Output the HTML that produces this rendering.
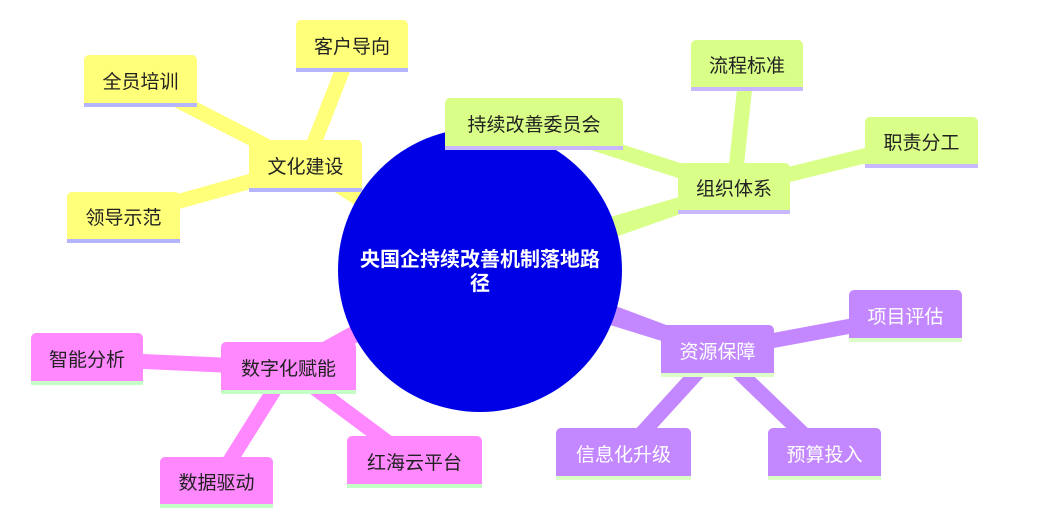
<!DOCTYPE html>
<html><head><meta charset="utf-8"><style>
body{margin:0;width:1038px;height:510px;background:#fff;position:relative;overflow:hidden;font-family:"Liberation Sans","Noto Sans CJK SC",sans-serif}
.n{position:absolute;box-sizing:border-box;border-radius:5px 5px 0 0;display:flex;align-items:center;justify-content:center;font-size:19px;color:#222;padding-top:2px}
.y{background:#ffff7a;border-bottom:4px solid #b4b4ff}
.g{background:#d9ff88;border-bottom:4px solid #c8b8ff}
.p{background:#c388ff;border-bottom:4px solid #dcffc8;color:#fff}
.k{background:#ff88ff;border-bottom:4px solid #c4ffc8}
svg{position:absolute;left:0;top:0}
.t{position:absolute;left:340px;top:248px;width:280px;text-align:center;color:#fff;font-size:20px;font-weight:bold;line-height:24px}
</style></head><body>
<svg width="1038" height="510">
<g stroke-linecap="butt">
<g stroke="#ffff7a" stroke-width="15">
<line x1="305" y1="166" x2="352" y2="46"/><line x1="305" y1="166" x2="140" y2="81"/><line x1="305" y1="166" x2="123" y2="217"/>
</g>
<g stroke="#d9ff88" stroke-width="15">
<line x1="734" y1="188" x2="534" y2="124"/><line x1="734" y1="188" x2="747" y2="66"/><line x1="734" y1="188" x2="921" y2="142"/>
</g>
<g stroke="#c388ff" stroke-width="15">
<line x1="717" y1="351" x2="905" y2="316"/><line x1="717" y1="351" x2="623" y2="454"/><line x1="717" y1="351" x2="824" y2="454"/>
</g>
<g stroke="#ff88ff" stroke-width="15">
<line x1="288" y1="368" x2="87" y2="359"/><line x1="288" y1="368" x2="216" y2="483"/><line x1="288" y1="368" x2="414" y2="462"/>
</g>
<polygon points="480,255 480,285 305,173 305,159" fill="#ffff7a"/>
<polygon points="480,255 480,285 734,195 734,181" fill="#d9ff88"/>
<polygon points="480,255 480,285 717,358 717,344" fill="#c388ff"/>
<polygon points="480,255 480,285 288,375 288,361" fill="#ff88ff"/>
</g>
<circle cx="480" cy="270" r="142" fill="#0000e6"/>
</svg>
<div class="t">央国企持续改善机制落地路<br>径</div>
<div class="n y" style="left:296px;top:20px;width:112px;height:52px">客户导向</div>
<div class="n y" style="left:84px;top:55px;width:113px;height:52px">全员培训</div>
<div class="n y" style="left:249px;top:140px;width:113px;height:52px">文化建设</div>
<div class="n y" style="left:67px;top:192px;width:113px;height:51px">领导示范</div>
<div class="n g" style="left:445px;top:98px;width:178px;height:52px">持续改善委员会</div>
<div class="n g" style="left:691px;top:40px;width:112px;height:51px">流程标准</div>
<div class="n g" style="left:865px;top:117px;width:113px;height:51px">职责分工</div>
<div class="n g" style="left:678px;top:163px;width:112px;height:51px">组织体系</div>
<div class="n p" style="left:661px;top:325px;width:113px;height:52px">资源保障</div>
<div class="n p" style="left:849px;top:290px;width:113px;height:52px">项目评估</div>
<div class="n p" style="left:556px;top:428px;width:135px;height:52px">信息化升级</div>
<div class="n p" style="left:768px;top:428px;width:113px;height:52px">预算投入</div>
<div class="n k" style="left:31px;top:333px;width:112px;height:52px">智能分析</div>
<div class="n k" style="left:221px;top:342px;width:135px;height:52px">数字化赋能</div>
<div class="n k" style="left:160px;top:457px;width:113px;height:51px">数据驱动</div>
<div class="n k" style="left:347px;top:436px;width:135px;height:52px">红海云平台</div>
</body></html>
